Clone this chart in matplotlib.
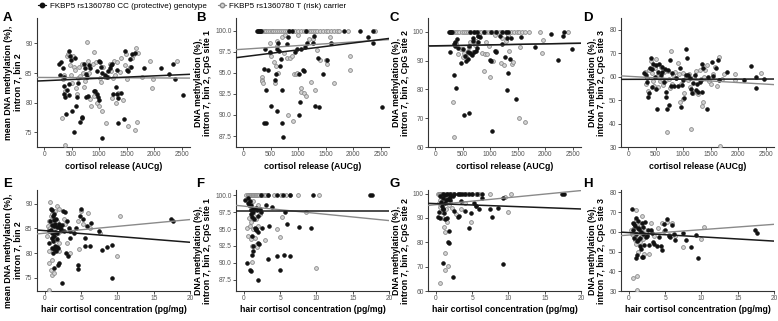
import numpy as np
import matplotlib
matplotlib.use("Agg")
import matplotlib.pyplot as plt
from matplotlib.lines import Line2D

plt.rcParams['font.family'] = ['Liberation Sans', 'DejaVu Sans']

# ---------------- data ----------------
legend_labels = ["FKBP5 rs1360780 CC (protective) genotype", "FKBP5 rs1360780 T (risk) carrier"]
panel_letters = ["A", "B", "C", "D", "E", "F", "G", "H"]
xlabel_top = "cortisol release (AUCg)"
xlabel_bottom = "hair cortisol concentration (pg/mg)"
ylabels = ["mean DNA methylation (%),\nintron 7, bin 2",
           "DNA methylation (%),\nintron 7, bin 2, CpG site 1",
           "DNA methylation (%),\nintron 7, bin 2, CpG site 2",
           "DNA methylation (%),\nintron 7, bin 2, CpG site 3"]

# Panel A
A_cc_x = [267,308,338,290,355,367,367,385,408,444,468,485,444,456,397,503,575,557,592,622,645,681,693,545,723,740,763,782,811,840,800,752,900,930,960,977,990,1000,1019,1037,1060,960,1060,1108,1137,1167,1197,1214,1226,1256,1297,1316,1333,1316,1345,1404,1451,1475,1504,1523,1570,1552,1605,1652,1810,2130,2260,2350,2380,2520]
A_cc_y = [86.5,86.9,85.9,84.6,84.4,82.8,81.4,81.0,82.1,88.8,87.8,87.2,83.1,81.3,78.1,78.6,79.4,87.5,80.9,83.3,76.8,77.6,77.4,75.0,86.5,85.8,84.9,84.4,86.3,85.8,81.1,80.9,81.9,82.0,81.5,80.9,80.4,87.1,86.9,86.1,85.0,85.4,74.0,84.7,84.4,85.4,85.8,86.3,86.6,81.5,82.7,81.4,80.7,85.5,76.6,81.6,77.2,88.8,85.5,85.3,86.0,87.3,88.3,88.4,85.9,85.9,84.8,86.6,84.0,81.3]
A_t_x = [330,370,340,365,380,420,430,450,470,490,510,525,545,560,580,600,620,640,660,680,700,720,740,770,790,810,830,850,880,900,910,940,960,990,1010,1040,1050,1070,1100,1130,1160,1190,1210,1230,1250,1270,1290,1310,1330,1350,1380,1400,1430,1460,1480,1500,1530,1560,1590,1620,1650,1660,1680,1700,1780,1930,1960,1970,2420]
A_t_y = [77.4,72.8,84.0,84.6,82.0,87.8,88.2,88.0,86.3,84.6,83.4,87.9,86.0,85.5,82.5,81.5,84.2,86.0,84.5,86.6,85.0,82.7,83.6,90.3,87.0,85.0,80.6,79.5,86.6,88.6,81.2,86.8,80.0,79.5,84.2,83.5,78.6,86.0,84.3,76.6,84.4,86.6,85.3,80.7,84.2,87.0,84.6,80.0,86.9,81.7,85.2,87.6,80.5,86.4,88.2,84.0,76.0,86.1,87.5,88.0,75.3,89.2,76.8,88.4,84.3,87.0,82.4,84.0,87.1]

# Panel B
B_cc_x = [260,275,290,305,320,830,883,1140,1827,2130,2352,401,481,376,451,420,512,383,407,574,605,623,636,654,667,685,623,710,710,728,790,809,944,975,1006,1019,1037,1056,1080,1099,1117,1160,1265,1284,1302,1377,1364,1451,1519,1593,2272,2364,2519]
B_cc_y = [100,100,100,100,100,100,100,100,100,100,100,97.8,97.5,95.4,95.3,93.0,91.1,89.0,89.1,94.1,94.8,97.8,98.5,97.6,95.8,96.6,90.5,93.0,89.0,87.4,98.4,99.2,97.5,97.8,94.9,90.0,91.5,97.8,95.3,95.2,98.1,98.5,98.5,99.4,91.1,91.0,96.8,94.8,96.5,98.5,99.2,98.5,91.0]
B_t_x = [330,360,390,420,450,480,520,550,580,610,650,680,720,760,800,840,900,950,1000,1050,1100,1150,1190,1230,1270,1310,1350,1400,1450,1500,1550,1600,1650,1700,1750,1900,2400,
         340,345,350,355,490,480,500,560,570,600,610,620,640,700,740,760,800,820,850,880,900,930,960,980,1000,1050,1060,1100,1150,1200,1230,1260,1300,1350,1400,1500,1520,1580,1650,1950,1950]
B_t_y = [100]*37 + [94.5,94.2,94.0,93.8,98.5,97.3,97.0,96.3,93.8,95.8,98.8,98.2,95.0,99.2,97.3,99.5,96.7,90.0,96.8,97.0,89.3,94.9,94.8,95.0,99.5,93.2,92.7,92.6,92.3,99.0,93.9,99.0,93.0,97.7,96.5,96.5,96.0,99.2,93.8,95.3,97.0]

# Panel C
C_cc_x = [250,270,290,310,640,700,760,890,1010,1100,1220,1290,1330,2340,264,344,356,368,405,417,344,387,466,509,540,558,589,601,613,632,663,681,693,712,736,755,785,816,773,528,620,1000,1018,1031,1080,1104,1184,1215,1264,1306,1325,1313,1368,1460,1380,1564,1810,2104,2239,2331,2485]
C_cc_y = [100,100,100,100,100,100,100,100,100,100,100,100,100,100,93.1,95.7,95.1,96.3,97.6,94.3,84.9,80.4,89.2,93.9,91.7,90.0,93.1,90.6,95.1,92.5,92.0,96.8,98.0,93.1,93.2,94.3,98.5,98.1,96.5,71.0,71.8,90.3,89.7,65.7,93.5,92.9,98.5,95.7,91.2,97.8,85.8,79.8,90.7,76.6,98.0,98.3,94.9,99.2,90.3,98.5,94.0]
C_t_x = [280,320,360,400,440,480,520,560,600,650,700,740,790,830,880,930,980,1030,1080,1130,1180,1230,1280,1330,1380,1430,1480,1530,1580,1630,1700,1900,2420,
         330,350,380,420,470,500,520,560,590,620,640,660,690,720,750,780,800,850,880,900,920,950,980,1000,1050,1080,1100,1190,1210,1250,1290,1320,1350,1400,1420,1540,1520,1630,1950,1960]
C_t_y = [100]*33 + [75.5,63.3,96.0,92.4,94.0,91.2,92.5,91.5,93.5,94.8,96.3,92.3,93.0,95.5,96.8,98.6,99.0,92.5,86.3,92.3,96.3,92.3,95.0,84.3,90.0,98.8,93.5,89.0,98.0,88.5,96.7,99.0,93.5,88.9,89.4,94.8,70.2,68.8,92.8,97.0]

# Panel D
D_cc_x = [285,328,346,364,376,388,407,425,437,449,485,498,510,528,546,558,589,607,619,649,668,680,692,710,728,740,752,771,801,832,862,910,941,953,971,995,1014,1044,1056,1068,1092,1117,1135,1153,1177,1214,1238,1256,1274,1299,1317,1335,1347,1359,1438,1456,1517,1547,1590,1638,1650,1802,2106,2227,2318,2330,2470]
D_cc_y = [61.4,60.7,57.9,51.4,52.9,63.6,67.9,63.1,55.4,65.4,60.0,54.6,65.0,46.4,62.1,65.3,60.7,64.3,62.1,57.9,63.1,51.4,53.6,46.4,62.9,48.1,67.1,56.0,61.4,56.0,59.3,56.0,63.6,46.9,56.4,58.6,51.1,71.7,60.7,67.9,60.7,59.6,54.6,52.9,57.1,60.7,54.3,56.9,53.6,57.9,58.6,65.4,53.6,63.6,46.4,60.0,66.4,60.3,63.6,67.1,58.6,62.1,58.6,64.6,60.0,55.0,59.0]
D_t_x = [300,320,340,360,380,410,430,450,470,490,500,520,540,560,580,600,620,640,660,680,700,720,740,760,780,790,820,850,870,900,920,950,960,990,1000,1020,1050,1080,1100,1120,1140,1170,1200,1240,1260,1300,1330,1350,1360,1380,1400,1440,1470,1500,1540,1580,1620,1650,1670,1700,1740,1950,1950,2420]
D_t_y = [62.0,57.0,59.5,53.9,62.8,66.8,61.5,58.0,56.0,63.5,67.4,60.2,55.5,61.0,58.0,64.0,59.0,56.4,61.8,58.4,36.3,62.5,59.0,55.0,70.8,57.0,60.5,62.0,59.5,65.8,61.0,49.0,57.0,61.5,50.5,53.0,60.0,58.5,61.0,55.5,37.5,53.0,60.0,62.5,52.5,62.8,59.0,47.5,49.0,60.0,63.0,65.0,58.0,57.0,61.0,64.0,56.0,68.2,30.5,59.0,61.0,61.0,58.5,61.5]

# Panel E
E_cc_x = [0.5,0.6,0.7,0.8,0.9,0.9,1.0,1.0,1.1,1.1,1.2,1.2,1.3,1.3,1.4,1.4,1.5,1.5,1.6,1.7,1.7,1.8,1.8,1.9,1.9,2.0,2.1,2.2,2.3,2.4,2.5,2.6,2.8,2.9,3.0,3.2,3.3,3.4,3.5,4.0,4.3,4.5,4.6,4.8,5.0,5.2,5.5,5.5,5.8,6.2,6.3,7.5,7.8,8.6,9.2,9.3,17.4,17.7,0.8,1.0,1.2,1.4,1.6,1.1,1.2]
E_cc_y = [84.5,82.0,86.5,89.0,88.8,84.0,83.0,81.0,87.5,82.5,80.8,85.5,86.8,83.5,84.2,81.5,80.5,87.0,82.8,85.2,84.0,81.0,77.5,78.0,86.0,85.5,85.0,84.8,85.7,74.0,88.5,84.5,88.3,80.0,86.5,79.5,85.0,83.0,84.5,84.0,85.0,76.8,77.6,87.6,88.9,87.0,81.5,83.0,85.5,81.4,86.2,84.5,80.6,81.3,74.9,81.6,86.9,86.6,84.6,85.6,88.0,86.0,81.2,80.0,77.0]
E_t_x = [0.3,0.4,0.5,0.5,0.6,0.6,0.7,0.7,0.8,0.8,0.9,0.9,1.0,1.0,1.0,1.1,1.1,1.2,1.2,1.3,1.3,1.4,1.5,1.5,1.6,1.7,1.8,1.9,2.0,2.0,0.5,2.2,2.6,2.8,3.0,3.5,4.5,4.7,5.0,5.3,6.0,6.2,7.6,10.0,10.3]
E_t_y = [83.5,85.5,84.8,86.5,80.5,78.0,90.3,85.0,87.5,76.5,83.0,75.5,86.0,88.0,78.5,84.0,85.5,82.5,87.0,84.3,76.0,88.5,85.0,83.0,86.5,89.5,84.0,82.0,80.5,89.0,72.6,84.5,87.0,86.0,82.0,80.0,86.5,80.8,88.5,86.0,88.2,85.0,84.0,79.5,87.5]

# Panel F
F_cc_x = [2.3,3.3,4.6,5.4,6.4,9.5,17.4,17.6,0.2,0.5,0.6,0.7,0.8,0.9,1.0,1.0,1.1,1.2,1.3,1.4,1.5,1.6,1.7,1.8,1.9,2.0,2.1,2.2,2.3,1.1,1.2,1.3,1.1,0.4,0.8,0.9,2.0,2.5,3.0,3.3,3.5,3.8,4.6,4.9,5.5,5.6,5.9,6.3,7.6,9.2,1.6,1.9]
F_cc_y = [100,100,100,100,100,100,100,100,99.3,98.8,99.6,98.5,99.1,97.8,97.2,98.5,96.8,97.6,98.0,96.5,95.2,94.8,95.0,97.9,94.5,93.0,92.8,98.0,97.5,94.0,92.5,91.8,91.1,89.9,88.9,88.8,87.4,95.2,98.5,90.5,95.5,98.3,91.0,88.9,91.1,97.6,95.7,91.0,95.3,95.2,98.2,97.0]
F_t_x = [0.3,0.5,0.6,0.7,0.8,0.9,1.0,1.1,1.2,1.3,1.4,1.5,1.6,1.7,1.8,2.0,2.1,2.4,2.6,2.9,3.1,3.3,4.2,5.1,5.8,6.4,7.5,10.3,
         0.4,0.6,0.7,0.8,0.9,1.0,1.0,1.1,1.1,1.2,1.3,1.4,1.5,1.6,1.7,1.8,1.9,2.0,2.2,2.9,4.5,4.9,5.2,8.6,10.0]
F_t_y = [100]*28 + [95.2,94.0,96.6,95.5,98.0,96.0,93.5,92.5,90.1,99.2,95.0,97.0,93.7,96.5,92.7,92.3,98.6,95.5,97.3,93.4,95.0,93.8,96.8,97.5,89.2]

# Panel G
G_cc_x = [1.0,1.5,2.0,2.5,3.0,3.3,3.6,4.0,4.5,5.0,5.7,6.3,17.4,17.6,0.3,0.4,0.5,0.6,0.7,0.8,0.9,1.0,1.0,1.1,1.2,1.3,1.3,1.4,1.5,1.6,1.7,1.8,1.8,1.9,2.0,0.9,2.4,2.3,2.5,3.0,3.2,3.5,4.0,4.5,4.8,5.2,5.5,6.0,6.3,7.4,7.7,8.6,9.2,9.3]
G_cc_y = [100,100,100,100,100,100,100,100,100,100,100,100,100,100,90.5,92.3,90.0,99.0,96.7,95.0,93.8,98.3,93.5,92.0,99.5,96.0,89.5,97.5,90.0,97.7,80.3,84.6,79.8,97.5,98.5,71.4,65.7,98.9,93.0,90.5,91.0,97.0,93.0,85.8,92.0,96.0,95.0,93.5,98.2,93.5,90.5,94.0,71.0,98.3]
G_t_x = [0.3,0.4,0.5,0.6,0.7,0.8,0.9,1.0,1.1,1.2,1.3,1.4,1.5,1.6,1.7,1.8,1.9,2.0,2.2,2.5,3.2,3.8,4.3,5.0,5.5,6.0,7.5,10.3,
         0.4,0.5,0.6,0.7,0.8,0.9,1.0,1.0,1.1,1.2,1.3,1.3,1.4,1.5,1.6,1.6,1.8,0.6,1.2,2.0,2.2,2.8,3.5,4.0,4.8,5.5,10.0,9.5]
G_t_y = [100]*28 + [96.0,94.5,97.5,95.5,92.5,96.5,98.0,90.0,86.4,84.3,96.8,75.5,93.5,88.5,70.2,98.3,95.5,63.3,68.8,96.5,94.0,91.5,93.5,96.0,88.5,95.0,92.5,98.6]

# Panel H
H_cc_x = [0.4,0.5,0.6,0.7,0.7,0.8,0.9,1.0,1.0,1.1,1.1,1.2,1.3,1.3,1.4,1.5,1.5,1.6,1.7,1.8,1.8,1.9,2.0,2.0,2.1,2.2,2.3,2.5,2.6,2.8,3.0,3.2,3.3,3.5,3.8,4.1,4.4,4.6,4.8,5.0,5.2,5.5,5.6,5.9,6.2,6.4,7.4,7.8,8.6,9.2,9.5,17.4,17.7]
H_cc_y = [71.8,64.5,61.0,57.0,64.0,63.0,46.5,67.0,59.0,48.0,55.5,62.0,65.5,56.0,61.5,53.0,57.0,51.5,60.0,47.0,64.5,62.5,47.0,59.0,53.5,65.0,57.5,58.0,61.0,53.5,61.0,59.5,55.0,54.0,53.0,57.5,53.0,51.0,64.0,61.0,66.5,58.0,57.5,63.5,59.0,56.0,59.5,56.0,52.5,58.5,46.5,61.0,59.5]
H_t_x = [0.3,0.4,0.5,0.6,0.7,0.8,0.9,0.9,1.0,1.0,1.1,1.1,1.1,1.2,1.3,1.3,1.4,1.5,1.6,1.7,1.8,1.9,2.0,2.1,2.2,2.5,2.8,3.0,3.5,4.0,4.5,4.8,5.3,5.5,6.0,6.3,7.5,10.0,10.3]
H_t_y = [61.0,59.0,36.5,58.5,62.0,56.0,71.0,66.0,60.5,54.0,37.5,30.5,63.0,57.5,50.0,58.5,61.5,55.0,60.0,63.5,68.0,56.5,59.0,49.0,61.0,58.5,49.0,64.5,58.0,62.0,64.5,60.5,65.0,58.5,64.5,58.0,52.5,56.5,62.5]

# regression lines: (intercept, slope)
fits_cc = [(83.7, 0.00041), (96.9, 0.00082), (95.15, 0.00033), (58.85, 0.00005),
           (84.55, -0.118), (97.75, 0.0), (95.9, -0.110), (59.6, -0.215)]
fits_t = [(84.25, -0.00004), (97.8, 0.00043), (95.0, 0.00042), (60.15, -0.00134),
          (84.04, 0.138), (98.4, -0.107), (95.47, 0.29), (58.38, 0.271)]

yticks = [[75, 80, 85, 90], [87.5, 90.0, 92.5, 95.0, 97.5, 100.0], [60, 70, 80, 90, 100], [30, 40, 50, 60, 70, 80]]
ylims = [(72.5, 94.3), (86.2, 101.5), (60, 104.8), (30, 85),
         (72.3, 92.8), (85.8, 100.8), (60, 101.5), (30, 81.2)]
xticks_top = [0, 500, 1000, 1500, 2000, 2500]
xticks_bottom = [0, 5, 10, 15, 20]

panels = [(A_cc_x, A_cc_y, A_t_x, A_t_y), (B_cc_x, B_cc_y, B_t_x, B_t_y),
          (C_cc_x, C_cc_y, C_t_x, C_t_y), (D_cc_x, D_cc_y, D_t_x, D_t_y),
          (E_cc_x, E_cc_y, E_t_x, E_t_y), (F_cc_x, F_cc_y, F_t_x, F_t_y),
          (G_cc_x, G_cc_y, G_t_x, G_t_y), (H_cc_x, H_cc_y, H_t_x, H_t_y)]

# ---------------- figure ----------------
W, H = 778, 321
fig = plt.figure(figsize=(W / 100, H / 100), dpi=100)

lefts = [37, 236, 428, 621]
letter_x = [3, 196, 390, 583]
letter_y = [18, 184]
aw = 153
rows = [(18, 147), (190, 291)]

cc_color = '#111111'
t_face = '#d4d4d4'
t_edge = '#8a8a8a'

for i, (cx, cy, tx, ty) in enumerate(panels):
    r, c = divmod(i, 4)
    top, bot = rows[r]
    ax = fig.add_axes([lefts[c] / W, (H - bot) / H, aw / W, (bot - top) / H])
    ax.scatter(tx, ty, s=7.5, facecolor=t_face, edgecolor=t_edge, linewidth=0.6, zorder=3)
    ax.scatter(cx, cy, s=7.5, facecolor=cc_color, edgecolor=cc_color, linewidth=0.4, zorder=4)
    if r == 0:
        xl = (-130, 2650)
        ax.set_xticks(xticks_top)
        ax.set_xlabel(xlabel_top, fontsize=6.3, fontweight='bold', labelpad=2.5)
    else:
        xl = (-1.1, 20.0)
        ax.set_xticks(xticks_bottom)
        ax.set_xlabel(xlabel_bottom, fontsize=6.3, fontweight='bold', labelpad=1.5)
    ax.set_xlim(xl)
    ax.set_ylim(ylims[i])
    xs = np.array(xl)
    a, b = fits_t[i]
    ax.plot(xs, a + b * xs, color='#8a8a8a', lw=1.0, zorder=5)
    a, b = fits_cc[i]
    ax.plot(xs, a + b * xs, color='#1a1a1a', lw=1.1, zorder=6)
    ax.set_yticks(yticks[c])
    if c == 1:
        ax.set_yticklabels([f"{v:.1f}" for v in yticks[c]])
    ax.set_ylabel(ylabels[c], fontsize=6.3, fontweight='bold', labelpad=2, linespacing=1.05)
    if r == 1:
        ax.yaxis.label.set_y(0.40)
    for s in ['top', 'right']:
        ax.spines[s].set_visible(False)
    for s in ['left', 'bottom']:
        ax.spines[s].set_linewidth(0.8)
        ax.spines[s].set_color('#333333')
    ax.tick_params(labelsize=4.8, length=2, width=0.6, pad=1.2, colors='#333333')
    ax.tick_params(labelcolor='#555555')
    fig.text(letter_x[c] / W, 1 - letter_y[r] / H, panel_letters[i], fontsize=9.5,
             fontweight='bold', ha='left', va='center')

handles = [Line2D([], [], color=cc_color, marker='o', markersize=3.2, lw=0.8),
           Line2D([], [], color=t_edge, marker='o', markersize=3.2, markerfacecolor=t_face, lw=0.8)]
fig.legend(handles, legend_labels, loc='upper left', bbox_to_anchor=(31 / W, 1.015), ncol=2,
           frameon=False, fontsize=5.8, handlelength=1.0, handletextpad=0.4, columnspacing=1.4)

fig.savefig("out.png", dpi=100)
